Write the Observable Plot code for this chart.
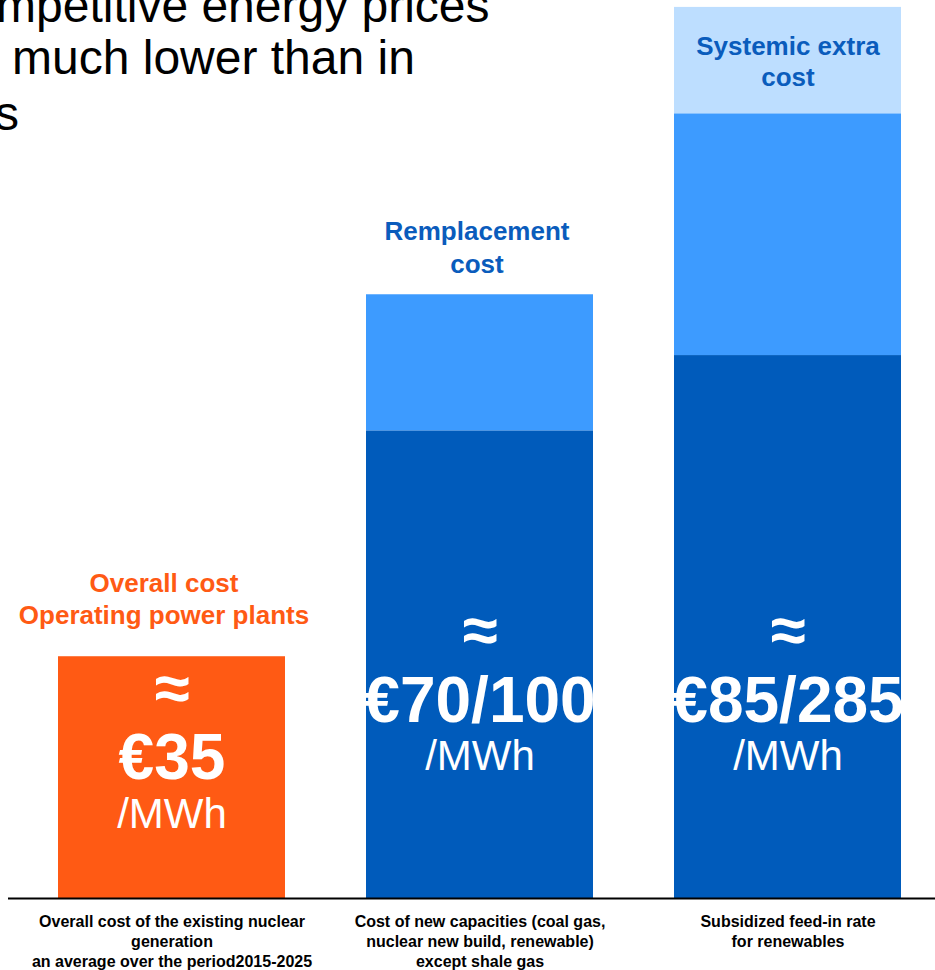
<!DOCTYPE html>
<html>
<head>
<meta charset="utf-8">
<script src="https://cdn.jsdelivr.net/npm/d3@7"></script>
<script src="https://cdn.jsdelivr.net/npm/@observablehq/plot@0.6"></script>
<style>
  body { margin: 0; background: #fff; }
  #wrap { position: relative; width: 935px; height: 970px; overflow: hidden; background: #fff; }
  #chart svg { display: block; }
  .t { position: absolute; font-family: 'Liberation Sans', Arial, sans-serif; font-size: 48px; line-height: 48px; color: #000; white-space: nowrap; z-index: 2; }
</style>
</head>
<body>
<div id="wrap">
  <div id="chart"></div>
  <div class="t" style="left:-4px; top:-18px;">mpetitive energy prices</div>
  <div class="t" style="left:12px; top:34px;">much lower than in</div>
  <div class="t" style="left:-5px; top:90px;">s</div>
</div>
<script>
// ---- data ----
const categories = ["Existing nuclear", "New capacities", "Renewables"];
const categoryLabels = [
  "Overall cost of the existing nuclear\ngeneration\nan average over the period2015-2025",
  "Cost of new capacities (coal gas,\nnuclear new build, renewable)\nexcept shale gas",
  "Subsidized feed-in rate\nfor renewables"
];
const segmentNames = ["Operating", "Base", "Upper", "Systemic"];
const operatingCost = [35, 0, 0];
const baseCost      = [0, 67.7, 78.6];
const upperCost     = [0, 19.7, 35.0];
const systemicCost  = [0, 0, 15.4];
const approxLabels = ["≈", "≈", "≈"];
const valueLabels = ["€35", "€70/100", "€85/285"];
const unitLabels = ["/MWh", "/MWh", "/MWh"];
const headLabels = [
  "Overall cost\nOperating power plants",
  "Remplacement\ncost",
  "Systemic extra\ncost"
];

// ---- styles ----
const segmentColors = ["#FF5A14", "#005BBB", "#3D9BFF", "#BDDEFF"];
const orange = "#FF5A14";
const blueText = "#0A5CBC";
const font = "'Liberation Sans', Arial, sans-serif";

// ---- build tables ----
const seriesValues = [operatingCost, baseCost, upperCost, systemicCost];
const segments = [];
categories.forEach((c, i) => {
  seriesValues.forEach((vals, s) => {
    if (vals[i] > 0) segments.push({category: c, segment: segmentNames[s], value: vals[i]});
  });
});
const bars = categories.map((c, i) => ({
  category: c,
  total: seriesValues.reduce((a, v) => a + v[i], 0),
  approx: approxLabels[i],
  value: valueLabels[i],
  unit: unitLabels[i],
  label: categoryLabels[i],
  head: headLabels[i]
}));

const innerCap = 43.3; // anchor for the in-bar labels (data units)
const inner = d => Math.min(d.total, innerCap);

const chart = Plot.plot({
  width: 935,
  height: 970,
  marginTop: 0,
  marginBottom: 72,
  marginLeft: 8,
  marginRight: 0,
  style: {fontFamily: font, background: "transparent", overflow: "visible"},
  x: {type: "band", domain: categories, range: [58, 901], paddingInner: 0.263, paddingOuter: 0, axis: null},
  y: {domain: [0, 130], axis: null},
  color: {domain: segmentNames, range: segmentColors},
  marks: [
    Plot.barY(segments, {x: "category", y: "value", fill: "segment", inset: 0}),
    Plot.ruleY([0], {stroke: "#000", strokeWidth: 2}),
    // in-bar labels
    Plot.text(bars, {x: "category", y: inner, text: "approx", lineAnchor: "bottom", dy: 53,
      fill: "white", fontSize: 64, fontWeight: "bold", fontFamily: font}),
    Plot.text(bars, {x: "category", y: inner, text: "value", lineAnchor: "bottom", dy: 122.5,
      fill: "white", fontSize: 64, fontWeight: "bold", fontFamily: font}),
    Plot.text(bars, {x: "category", y: inner, text: "unit", lineAnchor: "bottom", dy: 171,
      fill: "white", fontSize: 42, fontFamily: font}),
    // heading labels
    Plot.text(bars.slice(0, 1), {x: "category", y: "total", text: "head", lineAnchor: "bottom", dy: -33, dx: -8,
      lineHeight: 1.23, fill: orange, fontSize: 26, fontWeight: "bold", fontFamily: font}),
    Plot.text(bars.slice(1, 2), {x: "category", y: "total", text: "head", lineAnchor: "bottom", dy: -22, dx: -3,
      lineHeight: 1.25, fill: blueText, fontSize: 26, fontWeight: "bold", fontFamily: font}),
    Plot.text(bars.slice(2, 3), {x: "category", y: "total", text: "head", lineAnchor: "bottom", dy: 79,
      lineHeight: 1.2, fill: blueText, fontSize: 26, fontWeight: "bold", fontFamily: font}),
    // category labels under the axis
    Plot.text(bars, {x: "category", y: 0, text: "label", lineAnchor: "top", dy: 14,
      lineHeight: 1.25, fill: "#000", fontSize: 16, fontWeight: "bold", fontFamily: font})
  ]
});
document.getElementById("chart").appendChild(chart);
</script>
</body>
</html>
